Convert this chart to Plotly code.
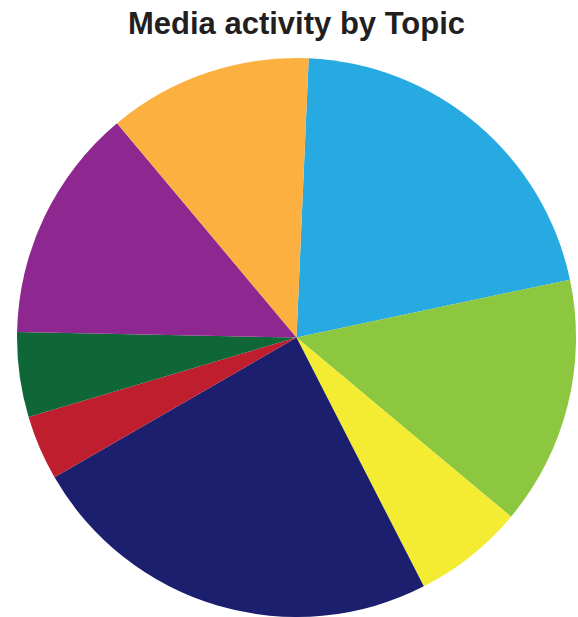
import plotly.graph_objects as go

# Share of media activity per topic (percent), clockwise from 12 o'clock
topics = ["Topic A", "Topic B", "Topic C", "Topic D",
          "Topic E", "Topic F", "Topic G", "Topic H"]
shares = [21.0, 14.4, 6.4, 24.2, 3.75, 4.9, 13.6, 11.8]
colors = ["#27AAE1", "#8DC63F", "#F3EC33", "#1B1F6E",
          "#BE1E2D", "#0F6637", "#8E278F", "#FBB040"]

fig = go.Figure(
    go.Pie(
        labels=topics,
        values=shares,
        marker=dict(colors=colors, line=dict(width=0)),
        sort=False,
        direction="clockwise",
        rotation=2.5,
        textinfo="none",
        hoverinfo="label+percent",
        domain=dict(x=[0.0265, 0.9995], y=[0.0, 0.906]),
    )
)

fig.update_layout(
    width=578,
    height=617,
    margin=dict(l=0, r=0, t=0, b=0),
    paper_bgcolor="white",
    plot_bgcolor="white",
    showlegend=False,
    title=dict(
        text="<b>Media activity by Topic</b>",
        x=0.513,
        xanchor="center",
        y=0.962,
        yanchor="middle",
        font=dict(family="Liberation Sans, Arial, sans-serif", size=31, color="#231F20"),
    ),
)

fig.write_html("out.html")
